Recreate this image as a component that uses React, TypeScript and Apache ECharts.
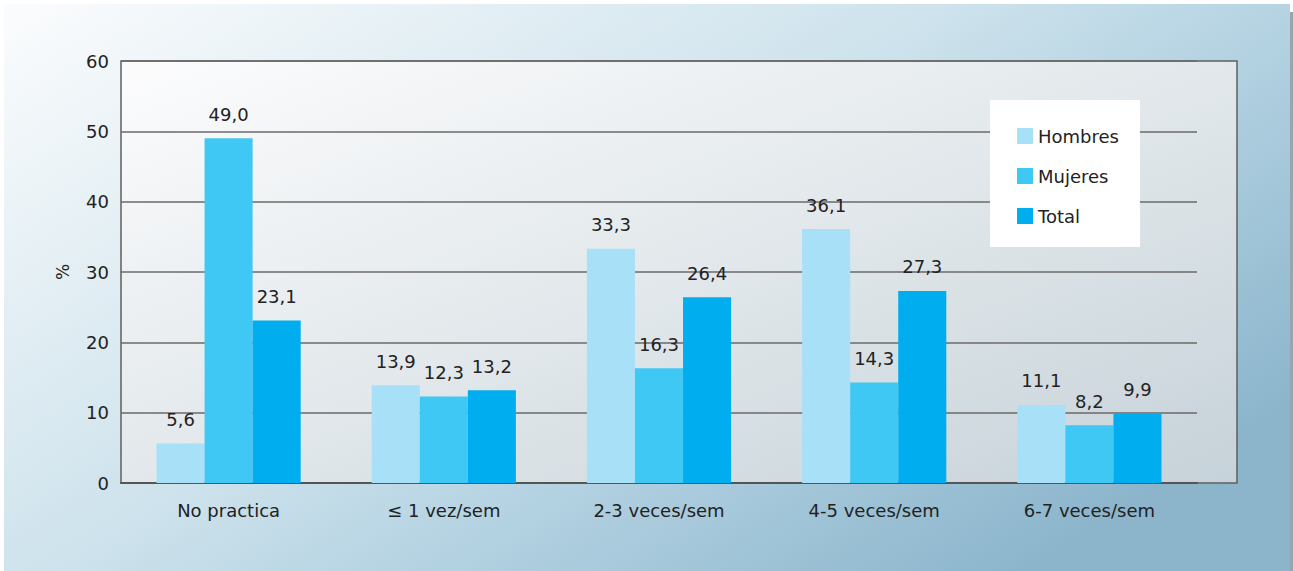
import React, { useEffect, useRef } from "react";
import * as echarts from "echarts";

const categories = ["No practica", "≤ 1 vez/sem", "2-3 veces/sem", "4-5 veces/sem", "6-7 veces/sem"];
const hombres = [5.6, 13.9, 33.3, 36.1, 11.1];
const mujeres = [49.0, 12.3, 16.3, 14.3, 8.2];
const total = [23.1, 13.2, 26.4, 27.3, 9.9];
const seriesNames = ["Hombres", "Mujeres", "Total"];
const seriesColors = ["#a8e0f8", "#40c8f4", "#00aeef"];

const FONT = "DejaVu Sans";

export default function App() {
  const ref = useRef<HTMLDivElement>(null);
  useEffect(() => {
    if (!ref.current) return;
    const chart = echarts.init(ref.current, null, { renderer: "svg" });
    const fmt = (p: any) => Number(p.value).toFixed(1).replace(".", ",");
    const mk = (name: string, data: number[], color: string) => ({
      name,
      type: "bar",
      data,
      barGap: "0%",
      barCategoryGap: "33%",
      itemStyle: { color },
      label: {
        show: true,
        position: "top",
        distance: 15,
        formatter: fmt,
        color: "#222",
        fontFamily: FONT,
        fontSize: 18,
      },
    });
    chart.setOption({
      animation: false,
      textStyle: { fontFamily: FONT },
      graphic: [
        {
          type: "rect",
          z: -20,
          silent: true,
          shape: { x: 1290, y: 12, width: 3, height: 559 },
          style: { fill: "#9aa4aa" },
        },
        {
          type: "rect",
          z: -19,
          silent: true,
          shape: { x: 4, y: 4, width: 1286, height: 567 },
          style: {
            fill: new echarts.graphic.LinearGradient(0, 0, 1, 0.7, [
              { offset: 0, color: "#fbfcfd" },
              { offset: 0.5, color: "#cde2ec" },
              { offset: 0.7, color: "#b2d1e1" },
              { offset: 1, color: "#8cb5cc" },
            ]),
          },
        },
        {
          type: "rect",
          z: -10,
          silent: true,
          shape: { x: 121, y: 61, width: 1116, height: 422 },
          style: {
            fill: new echarts.graphic.LinearGradient(0, 0, 1, 1, [
              { offset: 0, color: "#fcfcfd" },
              { offset: 0.5, color: "#e2e8eb" },
              { offset: 1, color: "#c6d2d9" },
            ]),
            stroke: "#5f5f5f",
            lineWidth: 1.5,
          },
        },
      ],
      legend: {
        orient: "vertical",
        left: 990,
        top: 100,
        padding: [27, 21, 22, 27],
        backgroundColor: "#ffffff",
        itemWidth: 16,
        itemHeight: 16,
        itemGap: 22,
        icon: "rect",
        data: seriesNames,
        textStyle: { color: "#222", fontFamily: FONT, fontSize: 18 },
      },
      grid: { left: 121, top: 61, width: 1076, height: 422, containLabel: false },
      xAxis: {
        type: "category",
        data: categories,
        axisLine: { show: true, lineStyle: { color: "#555", width: 2 } },
        axisTick: { show: false },
        axisLabel: { color: "#222", fontFamily: FONT, fontSize: 18, margin: 18 },
      },
      yAxis: {
        type: "value",
        min: 0,
        max: 60,
        interval: 10,
        name: "%",
        nameLocation: "middle",
        nameRotate: 90,
        nameGap: 50,
        nameTextStyle: { color: "#222", fontFamily: FONT, fontSize: 17 },
        axisLine: { show: false },
        axisTick: { show: false },
        axisLabel: { color: "#222", fontFamily: FONT, fontSize: 18, margin: 12 },
        splitLine: { show: true, lineStyle: { color: "#6a6a6a", width: 1.5 } },
      },
      series: [
        mk(seriesNames[0], hombres, seriesColors[0]),
        mk(seriesNames[1], mujeres, seriesColors[1]),
        mk(seriesNames[2], total, seriesColors[2]),
      ],
    });
    return () => chart.dispose();
  }, []);
  return (
    <div
      ref={ref}
      style={{ position: "fixed", left: 0, top: 0, width: 1293, height: 571, background: "#ffffff" }}
    />
  );
}
